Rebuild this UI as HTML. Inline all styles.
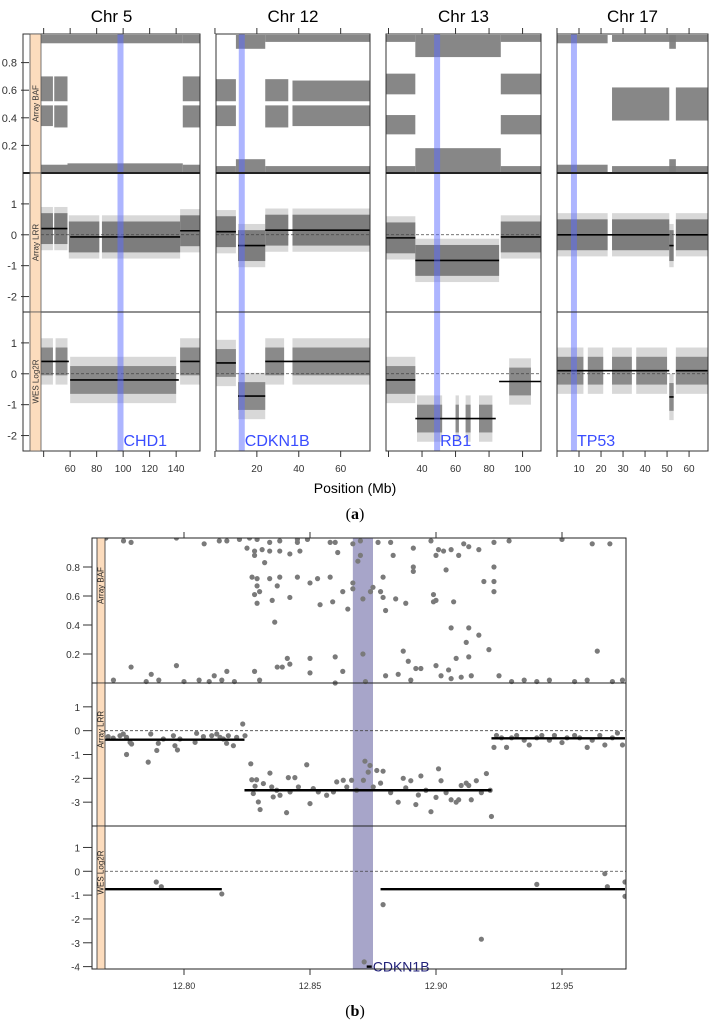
<!DOCTYPE html>
<html><head><meta charset="utf-8"><style>
html,body{margin:0;padding:0;background:#fff}
svg{display:block;font-family:"Liberation Sans",sans-serif}
</style></head><body>
<svg id="fig" width="711" height="1024" viewBox="0 0 711 1024" xmlns="http://www.w3.org/2000/svg">
<g id="pa"></g>
<g id="pb"></g>
<text x="355" y="519" text-anchor="middle" font-family="Liberation Serif" font-size="16">(<tspan font-weight="bold">a</tspan>)</text>
<text x="355" y="1016" text-anchor="middle" font-family="Liberation Serif" font-size="16">(<tspan font-weight="bold">b</tspan>)</text>
<text x="355" y="493" text-anchor="middle" font-size="14">Position (Mb)</text>
</svg>
<script>
// ---------- Panel (a) data ----------
const chromNames = ["Chr 5","Chr 12","Chr 13","Chr 17"];
const chromDomains = [[38,158],[0.5,74],[18.5,111],[0,68.6]];
const chromTicks = [[40,60,80,100,120,140],[0,20,40,60],[20,40,60,80,100],[0,10,20,30,40,50,60]];
const chromTickLabels = [["","60","80","100","120","140"],["","20","40","60"],["","40","60","80","100"],["","10","20","30","40","50","60"]];
const geneNames = ["CHD1","CDKN1B","RB1","TP53"];
const genePos = [98,12.8,49,7.7];
// BAF bands: [chrom, start, end, low, high]
const bafBands = [
 [0,38,47,0.34,0.49],[0,38,47,0.52,0.70],[0,48,58,0.33,0.49],[0,48,58,0.52,0.70],[0,38,58,0,0.06],[0,38,58,0.94,1],
 [0,58,145,0,0.07],[0,58,145,0.94,1],[0,145,158,0.33,0.49],[0,145,158,0.52,0.70],[0,145,158,0,0.06],[0,145,158,0.94,1],
 [1,0.5,10,0.34,0.49],[1,0.5,10,0.52,0.68],[1,0.5,10,0,0.05],[1,10,24,0,0.1],[1,10,24,0.9,1],
 [1,24,35,0.33,0.49],[1,24,35,0.52,0.68],[1,37,74,0.34,0.49],[1,37,74,0.52,0.67],[1,24,74,0,0.05],[1,24,74,0.95,1],
 [2,18.5,36,0.28,0.42],[2,18.5,36,0.57,0.72],[2,18.5,36,0,0.05],[2,18.5,36,0.95,1],
 [2,36,87,0,0.18],[2,36,87,0.84,1],
 [2,87,111,0.28,0.42],[2,87,111,0.57,0.72],[2,87,111,0,0.05],[2,87,111,0.95,1],
 [3,0,23,0,0.06],[3,0,23,0.94,1],[3,25,51,0.38,0.62],[3,51,54,0,0.1],[3,51,54,0.9,1],
 [3,54,68.6,0.38,0.62],[3,25,68.6,0,0.05],[3,25,68.6,0.95,1]
];
// LRR cloud segments: [chrom,start,end,mean]
const lrrClouds = [[0,38,47,0.2],[0,48,58,0.2],[0,59,82,-0.07],[0,84,143,-0.07],[0,143,158,0.13],
 [1,0.5,10,0.1],[1,11,24,-0.35],[1,24,35,0.15],[1,37,74,0.15],
 [2,18.5,36,-0.1],[2,36,86,-0.83],[2,87,111,-0.07],
 [3,0,23,0],[3,25,51,0],[3,51,53,-0.35],[3,54,68.6,0]];
const lrrSegs = [[0,38,58,0.2],[0,60,143,-0.07],[0,143,158,0.13],
 [1,0.5,10,0.1],[1,11,24,-0.35],[1,24,74,0.15],
 [2,18.5,36,-0.1],[2,36,86,-0.83],[2,87,111,-0.07],
 [3,0,51,0],[3,51,53,-0.35],[3,54,68.6,0]];
const wesClouds = [[0,38,47,0.4],[0,49,58,0.4],[0,60,140,-0.2],[0,143,158,0.4],
 [1,0.5,10,0.35],[1,11,24,-0.72],[1,24,33,0.4],[1,37,74,0.4],
 [2,18.5,36,-0.2],[2,37,52,-1.45],[2,60,62,-1.45],[2,66,69,-1.45],[2,74,82,-1.45],[2,92,105,-0.25],
 [3,0,12,0.1],[3,14,21,0.1],[3,25,34,0.1],[3,36,50,0.1],[3,51,53,-0.75],[3,54,68.6,0.1]];
const wesSegs = [[0,38,59,0.4],[0,60,142,-0.2],[0,143,158,0.4],
 [1,0.5,10,0.35],[1,11,24,-0.72],[1,24,74,0.4],
 [2,18.5,36,-0.2],[2,36,84,-1.45],[2,86,111,-0.25],
 [3,0,51,0.1],[3,51,53,-0.75],[3,54,68.6,0.1]];
const bafTicksA = [0.2,0.4,0.6,0.8];
const logTicksA = [-2,-1,0,1];

// ---------- Panel (b) data ----------
const bTicks = [12.80,12.85,12.90,12.95];
const bTickLabels = ["12.80","12.85","12.90","12.95"];
const bafBX = [12.769,12.776,12.779,12.797,12.808,12.814,12.817,12.822,12.826,12.829,12.834,12.838,12.845,12.849,12.858,12.86,12.867,12.87,12.877,12.882,12.898,12.929,12.95,12.962,12.969,
 12.825,12.828,12.828,12.831,12.832,12.834,12.838,12.842,12.845,12.846,12.861,12.869,12.87,12.883,12.891,12.9,12.901,12.903,12.904,12.906,12.909,12.911,12.913,12.917,12.923,
 12.827,12.829,12.829,12.83,12.828,12.834,12.837,12.838,12.845,12.85,12.853,12.858,12.863,12.867,12.867,12.874,12.875,12.879,12.878,12.879,12.891,12.891,12.919,12.923,12.923,12.923,12.899,
 12.829,12.835,12.842,12.854,12.859,12.865,12.871,12.88,12.884,12.888,12.899,12.9,12.907,
 12.836,12.906,12.913,12.917,12.912,
 12.841,12.842,12.85,12.86,12.871,12.887,12.889,12.921,12.964,12.837,12.839,12.779,12.797,12.892,12.894,12.9,12.908,12.913,
 12.828,12.85,12.863,12.817,12.812,12.787,12.88,12.885,12.902,12.905,12.906,12.914,12.925,12.91,
 12.772,12.785,12.79,12.8,12.806,12.81,12.815,12.82,12.83,12.86,12.872,12.89,12.93,12.935,12.94,12.945,12.955,12.96,12.97,12.974];
const bafBY = [1.0,0.98,0.97,1.0,0.96,0.98,0.98,0.99,1.0,0.99,0.97,0.98,0.99,0.99,0.97,0.97,0.96,0.98,0.97,0.97,0.98,0.98,0.99,0.96,0.96,
 0.93,0.91,0.88,0.92,0.83,0.91,0.91,0.89,0.97,0.91,0.90,0.84,0.88,0.88,0.93,0.88,0.92,0.91,0.78,0.92,0.88,0.96,0.94,0.92,0.97,
 0.73,0.72,0.67,0.63,0.61,0.72,0.67,0.73,0.73,0.69,0.72,0.73,0.63,0.69,0.65,0.63,0.66,0.59,0.63,0.73,0.80,0.77,0.70,0.70,0.80,0.63,0.61,
 0.55,0.57,0.59,0.54,0.56,0.51,0.58,0.50,0.58,0.55,0.56,0.57,0.56,
 0.42,0.38,0.38,0.33,0.28,
 0.17,0.13,0.17,0.18,0.20,0.22,0.15,0.23,0.22,0.11,0.11,0.11,0.12,0.10,0.10,0.12,0.17,0.18,
 0.08,0.07,0.08,0.08,0.05,0.06,0.05,0.06,0.05,0.09,0.03,0.05,0.05,0.04,
 0.02,0.01,0.02,0.01,0.02,0.01,0.02,0.01,0.02,0.0,0.01,0.02,0.01,0.02,0.01,0.02,0.01,0.02,0.01,0.02];
const lrrBX = [12.7699,12.7719,12.7746,12.7759,12.7772,12.7786,12.7792,12.7772,12.7858,12.7868,12.7892,12.7898,12.7918,12.7958,12.7964,12.7974,12.7984,12.8044,12.805,12.8077,12.811,12.813,12.8143,12.8156,12.8169,12.8176,12.8196,12.8209,12.8233,12.8242,
 12.8265,12.8269,12.8282,12.8275,12.8288,12.8302,12.8295,12.8315,12.8341,12.8348,12.8354,12.8368,12.8381,12.8414,12.8421,12.844,12.8454,12.8487,12.85,12.8513,12.8533,12.8566,12.8593,12.8606,12.8632,12.8646,12.8665,12.8685,12.8712,12.8718,12.8731,12.8738,12.8751,12.8765,12.8407,
 12.878,12.879,12.882,12.885,12.888,12.89,12.892,12.894,12.896,12.898,12.9,12.902,12.904,12.906,12.908,12.91,12.912,12.914,12.916,12.918,12.92,12.9215,12.922,12.887,12.893,12.901,12.909,12.913,
 12.923,12.924,12.926,12.928,12.93,12.932,12.935,12.937,12.94,12.942,12.945,12.947,12.95,12.952,12.955,12.957,12.96,12.962,12.965,12.967,12.97,12.972,12.974];
const lrrBY = [-0.25,-0.31,-0.21,-0.14,-0.28,-0.49,-0.56,-1.0,-1.32,-0.14,-0.83,-0.53,-0.35,-0.21,-0.63,-0.81,-0.35,-0.49,-0.11,-0.25,-0.21,-0.14,-0.28,-0.35,-0.53,-0.21,-0.63,-0.28,0.28,-0.21,
 -1.39,-2.06,-2.33,-2.64,-2.06,-3.31,-2.99,-2.22,-1.78,-2.36,-2.78,-2.5,-2.71,-1.97,-2.57,-1.97,-2.36,-1.43,-3.06,-2.43,-2.57,-2.71,-2.57,-2.15,-2.08,-2.36,-2.08,-2.5,-2.08,-1.28,-1.74,-1.46,-2.36,-1.67,-3.44,
 -2.2,-1.7,-2.6,-3.0,-2.4,-2.1,-3.1,-1.9,-2.5,-3.4,-2.8,-2.1,-2.6,-2.9,-3.0,-2.3,-2.2,-2.9,-2.1,-2.6,-1.8,-2.5,-3.6,-2.0,-2.7,-1.6,-2.9,-2.3,
 -0.7,-0.2,-0.3,-0.7,-0.3,-0.2,-0.4,-0.6,-0.3,-0.2,-0.4,-0.2,-0.5,-0.3,-0.2,-0.3,-0.7,-0.4,-0.2,-0.6,-0.3,-0.1,-0.6];
const lrrBSegs = [[12.7687,12.824,-0.38],[12.824,12.922,-2.5],[12.922,12.975,-0.32]];
const wesBX = [12.789,12.791,12.815,12.8715,12.872,12.879,12.918,12.94,12.967,12.968,12.975,12.975];
const wesBY = [-0.45,-0.65,-0.95,-3.8,-4.3,-1.4,-2.85,-0.55,-0.1,-0.65,-0.45,-1.05];
const wesBSegs = [[12.7687,12.815,-0.75],[12.8725,12.8745,-4.0],[12.878,12.975,-0.75]];
const highlightB = [12.867,12.875];

// ---------- helpers ----------
const NS="http://www.w3.org/2000/svg";
function mk(parent,tag,attrs){const e=document.createElementNS(NS,tag);for(const k in attrs)e.setAttribute(k,attrs[k]);parent.appendChild(e);return e;}
function lin(d0,d1,r0,r1){return v=>r0+(v-d0)*(r1-r0)/(d1-d0);}

// ---------- draw panel (a) ----------
const pa=document.getElementById('pa');
const frames=[[23,200],[216,370],[386,541],[557,708]];
const yB=lin(0,1,173,35), yL=lin(-2.5,2,312,173), yW=lin(-2.5,2,451,312);
const GRAY="#7d7d7d";
chromNames.forEach((nm,ci)=>{
  const [fx0,fx1]=frames[ci];
  const dx0 = ci===0?41:fx0;
  const x=lin(chromDomains[ci][0],chromDomains[ci][1],dx0,fx1);
  const g=mk(pa,'g',{});
  
  
  const t=mk(g,'text',{x:(fx0+fx1)/2,y:22,'text-anchor':'middle','font-size':17});
  t.textContent=nm;
  
  
  const clip='clipA'+ci;
  const cp=mk(mk(g,'defs',{}),'clipPath',{id:clip});
  mk(cp,'rect',{x:dx0,y:34,width:fx1-dx0,height:417});
  const d=mk(g,'g',{'clip-path':'url(#'+clip+')'});
  bafBands.filter(b=>b[0]===ci).forEach(b=>{
    const r=mk(d,'rect',{x:x(b[1]),y:yB(b[4]),width:x(b[2])-x(b[1]),height:yB(b[3])-yB(b[4]),fill:GRAY,opacity:0.92});
    
    
  });
  lrrClouds.filter(b=>b[0]===ci).forEach(b=>{
    mk(d,'rect',{x:x(b[1]),y:yL(b[3]+0.7),width:x(b[2])-x(b[1]),height:yL(b[3]-0.7)-yL(b[3]+0.7),fill:GRAY,opacity:0.3});
    const r=mk(d,'rect',{x:x(b[1]),y:yL(b[3]+0.5),width:x(b[2])-x(b[1]),height:yL(b[3]-0.5)-yL(b[3]+0.5),fill:GRAY});
    
    
  });
  wesClouds.filter(b=>b[0]===ci).forEach(b=>{
    mk(d,'rect',{x:x(b[1]),y:yW(b[3]+0.75),width:x(b[2])-x(b[1]),height:yW(b[3]-0.75)-yW(b[3]+0.75),fill:GRAY,opacity:0.3});
    const r=mk(d,'rect',{x:x(b[1]),y:yW(b[3]+0.45),width:x(b[2])-x(b[1]),height:yW(b[3]-0.45)-yW(b[3]+0.45),fill:GRAY,opacity:0.85});
    
    
  });
  [yL,yW].forEach(ys=>mk(d,'line',{x1:dx0,x2:fx1,y1:ys(0),y2:ys(0),stroke:'#444','stroke-dasharray':'3,2','stroke-width':0.8}));
  lrrSegs.filter(s=>s[0]===ci).forEach(s=>{const l=mk(d,'line',{x1:x(s[1]),x2:x(s[2]),y1:yL(s[3]),y2:yL(s[3]),stroke:'#000','stroke-width':1.6});
    });
  wesSegs.filter(s=>s[0]===ci).forEach(s=>{const l=mk(d,'line',{x1:x(s[1]),x2:x(s[2]),y1:yW(s[3]),y2:yW(s[3]),stroke:'#000','stroke-width':1.6});
    });
  const gx=x(genePos[ci]);
  const band=mk(d,'rect',{x:gx-3,y:34,width:6,height:417,fill:'#5b6cff',opacity:0.5});
  
  
  const gl=mk(g,'text',{x:gx+3,y:446,'font-size':16,fill:'#3a4dff'});
  gl.textContent=geneNames[ci];
  
  
  mk(g,'rect',{x:fx0,y:34,width:fx1-fx0,height:417,fill:'none',stroke:'#333','stroke-width':1});
  mk(g,'line',{x1:fx0,x2:fx1,y1:173,y2:173,stroke:'#222','stroke-width':2});
  mk(g,'line',{x1:fx0,x2:fx1,y1:312,y2:312,stroke:'#222','stroke-width':1});
  chromTicks[ci].forEach((tv,ti)=>{
    const tx=x(tv);
    mk(g,'line',{x1:tx,x2:tx,y1:28,y2:34,stroke:'#333'});
    mk(g,'line',{x1:tx,x2:tx,y1:451,y2:457,stroke:'#333'});
    const tl=mk(g,'text',{x:tx,y:472,'text-anchor':'middle','font-size':10,fill:'#333'});
    tl.textContent=chromTickLabels[ci][ti];
    
    
  });
});
[['Array BAF',34,173],['Array LRR',173,312],['WES Log2R',312,451]].forEach(([lab,y0,y1])=>{
  const s=mk(pa,'rect',{x:30,y:y0,width:11,height:y1-y0,fill:'#fcdcbd',stroke:'#555','stroke-width':0.8});
  
  
  const t=mk(pa,'text',{x:0,y:0,'font-size':8,'text-anchor':'middle',fill:'#333',transform:`translate(38.5,${(y0+y1)/2}) rotate(-90)`});
  t.textContent=lab;
  
  
});
function yAxisA(ticks,ys,fmt){ticks.forEach(v=>{mk(pa,'line',{x1:21,x2:29,y1:ys(v),y2:ys(v),stroke:'#333'});
  const t=mk(pa,'text',{x:17,y:ys(v)+4,'text-anchor':'end','font-size':11,fill:'#333'});t.textContent=fmt(v);
  });}
yAxisA(bafTicksA,yB,v=>v.toFixed(1));
yAxisA(logTicksA,yL,v=>String(v));
yAxisA(logTicksA,yW,v=>String(v));

// ---------- draw panel (b) ----------
const pb=document.getElementById('pb');
const bx0=105,bx1=626;
const xb=lin(12.80,12.90,184,436);
const ybB=lin(0,1,683,538), ybL=lin(-4,2,826,683), ybW=lin(-4.1,1.9,969,826);
const cpb=mk(mk(pb,'defs',{}),'clipPath',{id:'clipB'});
mk(cpb,'rect',{x:bx0,y:538,width:bx1-bx0,height:431});
const db=mk(pb,'g',{'clip-path':'url(#clipB)'});
const hb=mk(db,'rect',{x:xb(highlightB[0]),y:538,width:xb(highlightB[1])-xb(highlightB[0]),height:431,fill:'#a7a5c9'});


[ybL,ybW].forEach(ys=>mk(db,'line',{x1:bx0,x2:bx1,y1:ys(0),y2:ys(0),stroke:'#444','stroke-dasharray':'3,2','stroke-width':0.8}));
function pts(X,Y,ys,name){X.forEach((v,i)=>{const c=mk(db,'circle',{cx:xb(v),cy:ys(Y[i]),r:2.6,fill:'#7a7a7a'});
  });}
pts(bafBX,bafBY,ybB,'baf-point');
pts(lrrBX,lrrBY,ybL,'lrr-point');
pts(wesBX,wesBY,ybW,'wes-point');
lrrBSegs.forEach(s=>{const l=mk(db,'line',{x1:xb(s[0]),x2:xb(s[1]),y1:ybL(s[2]),y2:ybL(s[2]),stroke:'#000','stroke-width':2.4});
  });
wesBSegs.forEach(s=>{const l=mk(db,'line',{x1:xb(s[0]),x2:xb(s[1]),y1:ybW(s[2]),y2:ybW(s[2]),stroke:'#000','stroke-width':2.4});
  });
const gb=mk(pb,'text',{x:xb(12.8745)+1,y:ybW(-4)+5,'font-size':14,fill:'#22227a'});
gb.textContent='CDKN1B';


mk(pb,'rect',{x:92,y:538,width:bx1-92,height:431,fill:'none',stroke:'#222','stroke-width':1});
mk(pb,'line',{x1:92,x2:bx1,y1:683,y2:683,stroke:'#222'});
mk(pb,'line',{x1:92,x2:bx1,y1:826,y2:826,stroke:'#222'});
[['Array BAF',538,683],['Array LRR',683,826],['WES Log2R',826,969]].forEach(([lab,y0,y1])=>{
  const s=mk(pb,'rect',{x:97,y:y0,width:8,height:y1-y0,fill:'#fcdcbd',stroke:'#333','stroke-width':0.8});
  
  
  const t=mk(pb,'text',{x:0,y:0,'font-size':8,'text-anchor':'middle',fill:'#222',transform:`translate(103.5,${(y0+y1)/2-25}) rotate(-90)`});
  t.textContent=lab;
  
  
});
function yAxisB(ticks,ys){ticks.forEach(v=>{mk(pb,'line',{x1:83,x2:92,y1:ys(v),y2:ys(v),stroke:'#333'});
  const t=mk(pb,'text',{x:80,y:ys(v)+4,'text-anchor':'end','font-size':10,fill:'#333'});t.textContent=(ticks.length===4?v.toFixed(1):String(v));
  });}
yAxisB([0.2,0.4,0.6,0.8],ybB);
yAxisB([-3,-2,-1,0,1],ybL);
yAxisB([-4,-3,-2,-1,0,1],ybW);
bTicks.forEach((v,i)=>{const tx=xb(v);
  mk(pb,'line',{x1:tx,x2:tx,y1:532,y2:538,stroke:'#333'});
  mk(pb,'line',{x1:tx,x2:tx,y1:969,y2:975,stroke:'#333'});
  const t=mk(pb,'text',{x:tx,y:989,'text-anchor':'middle','font-size':9,fill:'#333'});t.textContent=bTickLabels[i];
  });
</script>
</body></html>
